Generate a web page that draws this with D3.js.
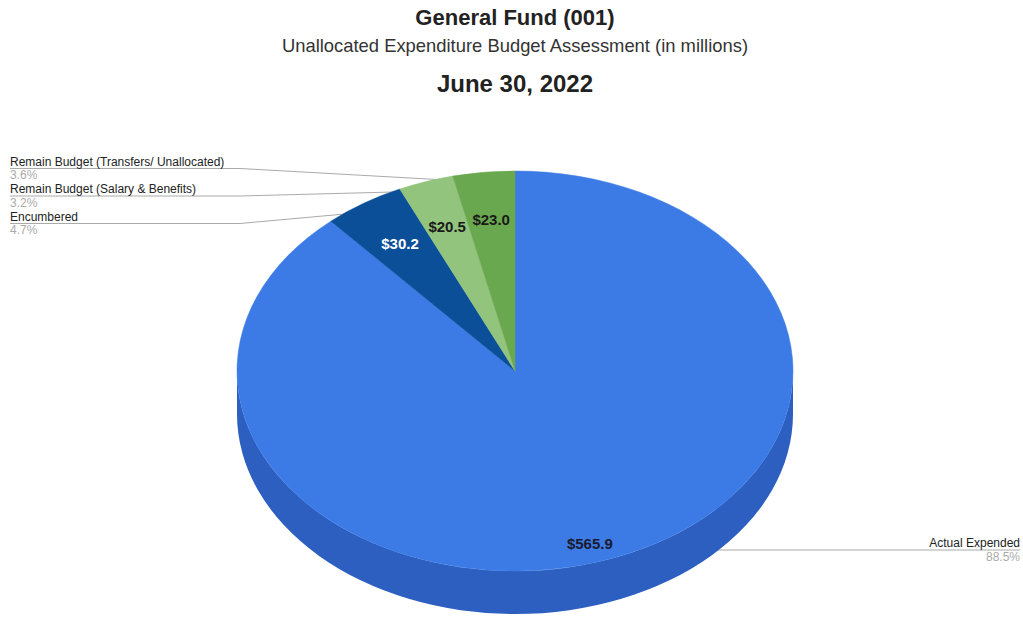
<!DOCTYPE html>
<html>
<head>
<meta charset="utf-8">
<script src="https://cdn.jsdelivr.net/npm/d3@7"></script>
<style>
  html, body { margin: 0; padding: 0; background: #fff; }
  svg { display: block; }
</style>
</head>
<body>
<svg id="chart" width="1023" height="617"></svg>
<script>
const categories = ["Actual Expended", "Encumbered", "Remain Budget (Salary & Benefits)", "Remain Budget (Transfers/ Unallocated)"];
const values = [565.9, 30.2, 20.5, 23.0];
const valueLabels = ["$565.9", "$30.2", "$20.5", "$23.0"];
const percentLabels = ["88.5%", "4.7%", "3.2%", "3.6%"];
const colors = ["#3c7be6", "#0b4f99", "#93c47d", "#6aa84f"];
const sideColors = ["#2c5fc0", "#083c75", "#72a05e", "#52853c"];
const valueTextColors = ["#1a1a2e", "#ffffff", "#1a1a1a", "#1a1a1a"];

const W = 1023, H = 617;
const cx = 515, cy = 371, rx = 278, ry = 200, depth = 43;
const svg = d3.select("#chart");
const font = "Liberation Sans, Arial, sans-serif";

// Titles
svg.append("text").attr("x", cx).attr("y", 25).attr("text-anchor", "middle")
  .attr("font-family", font).attr("font-weight", "bold")
  .attr("font-size", 22).attr("fill", "#222").text("General Fund (001)");
svg.append("text").attr("x", cx).attr("y", 51.5).attr("text-anchor", "middle")
  .attr("font-family", font)
  .attr("font-size", 18.4).attr("fill", "#333").text("Unallocated Expenditure Budget Assessment (in millions)");
svg.append("text").attr("x", cx).attr("y", 92).attr("text-anchor", "middle")
  .attr("font-family", font).attr("font-weight", "bold")
  .attr("font-size", 24).attr("fill", "#222").text("June 30, 2022");

const pie = d3.pie().sort(null).startAngle(0).endAngle(2 * Math.PI)(values);

const px = (t, f = 1) => cx + rx * f * Math.sin(t);
const py = (t, f = 1) => cy - ry * f * Math.cos(t);

const lineG = svg.append("g");
const pieG = svg.append("g");
const labelG = svg.append("g");

// Sides (front-facing portion, angles between PI/2 and 3PI/2)
pie.forEach((d, i) => {
  const lo = Math.max(d.startAngle, Math.PI / 2);
  const hi = Math.min(d.endAngle, 3 * Math.PI / 2);
  if (hi <= lo) return;
  const large = (hi - lo) > Math.PI ? 1 : 0;
  const path = `M${px(lo)},${py(lo)} A${rx},${ry} 0 ${large} 1 ${px(hi)},${py(hi)}`
    + ` L${px(hi)},${py(hi) + depth} A${rx},${ry} 0 ${large} 0 ${px(lo)},${py(lo) + depth} Z`;
  pieG.append("path").attr("d", path).attr("fill", sideColors[i]);
});

// Top faces
pie.forEach((d, i) => {
  const a = d.startAngle, b = d.endAngle;
  const large = (b - a) > Math.PI ? 1 : 0;
  const path = `M${cx},${cy} L${px(a)},${py(a)} A${rx},${ry} 0 ${large} 1 ${px(b)},${py(b)} Z`;
  pieG.append("path").attr("d", path).attr("fill", colors[i])
    .attr("stroke", colors[i]).attr("stroke-width", 0.5);
});

// Value labels inside slices
pie.forEach((d, i) => {
  const m = (d.startAngle + d.endAngle) / 2;
  const x = px(m, 0.76);
  const y = py(m, 0.76) + depth * 0.75 * Math.max(0, -Math.cos(m));
  labelG.append("text").attr("x", x).attr("y", y).attr("dy", "0.35em")
    .attr("text-anchor", "middle")
    .attr("font-family", font).attr("font-weight", "bold")
    .attr("font-size", 15).attr("fill", valueTextColors[i]).text(valueLabels[i]);
});

// Leader labels (left side)
const leftOrder = [3, 2, 1]; // top to bottom on the left
leftOrder.forEach((idx, k) => {
  const base = 165.5 + k * 27.5;
  const t = labelG.append("text").attr("x", 10).attr("y", base)
    .attr("font-family", font).attr("font-size", 12).attr("fill", "#222").text(categories[idx]);
  labelG.append("text").attr("x", 10).attr("y", base + 13.5)
    .attr("font-family", font).attr("font-size", 12).attr("fill", "#aaa").text(percentLabels[idx]);
  const tw = t.node().getComputedTextLength();
  const ly = base + 3;
  const elbow = Math.max(10 + tw, 240);
  const d = pie[idx];
  const m = (d.startAngle + d.endAngle) / 2;
  lineG.append("path")
    .attr("d", `M10,${ly} L${elbow},${ly} L${px(m, 0.95)},${py(m, 0.95)}`)
    .attr("fill", "none").attr("stroke", "#aaa").attr("stroke-width", 1);
});

// Right label (Actual Expended)
{
  const idx = 0;
  const base = 547;
  labelG.append("text").attr("x", 1020).attr("y", base).attr("text-anchor", "end")
    .attr("font-family", font).attr("font-size", 12).attr("fill", "#222").text(categories[idx]);
  labelG.append("text").attr("x", 1020).attr("y", base + 13.5).attr("text-anchor", "end")
    .attr("font-family", font).attr("font-size", 12).attr("fill", "#aaa").text(percentLabels[idx]);
  const ly = base + 3;
  const d = pie[idx];
  const m = (d.startAngle + d.endAngle) / 2;
  lineG.append("path")
    .attr("d", `M1020,${ly} L${px(m, 0.95)},${ly}`)
    .attr("fill", "none").attr("stroke", "#aaa").attr("stroke-width", 1);
}
</script>
</body>
</html>
